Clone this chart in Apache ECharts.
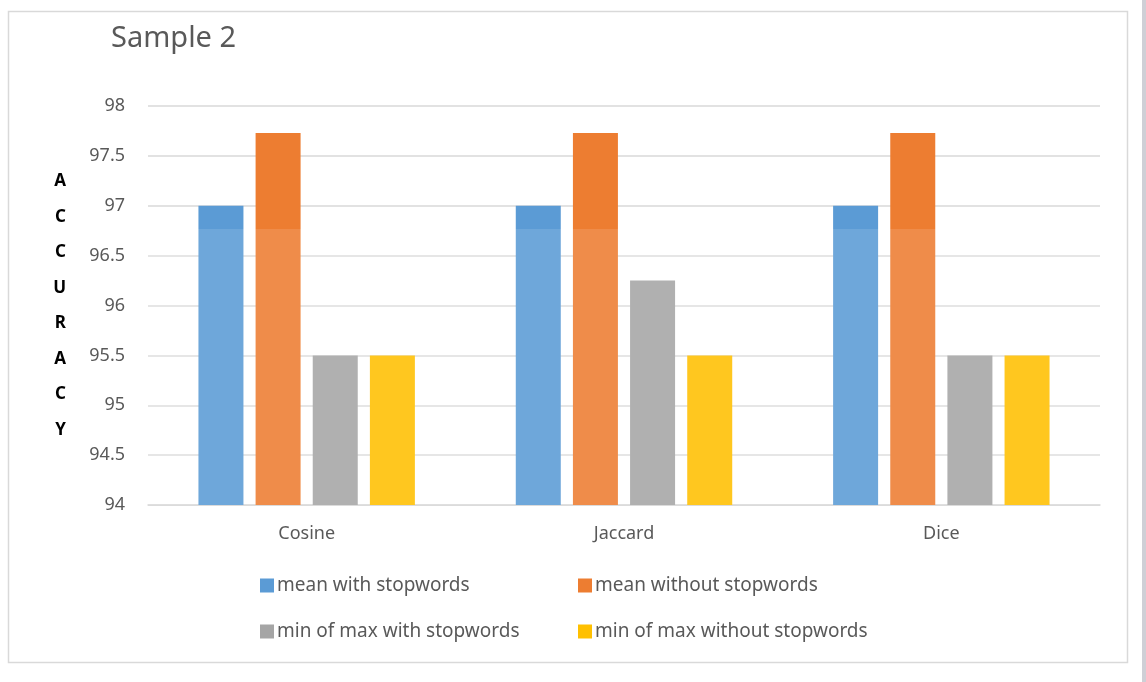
<!DOCTYPE html>
<html>
<head>
<meta charset="utf-8">
<script src="https://cdn.jsdelivr.net/npm/echarts@6/dist/echarts.min.js"></script>
<style>
  html, body { margin: 0; padding: 0; background: #ffffff; }
  #chart { width: 1146px; height: 682px; }
</style>
</head>
<body>
<div id="chart"></div>
<script>
// Accuracy per similarity measure
const categories = ['Cosine', 'Jaccard', 'Dice'];
const meanWithStopwords = [97.0, 97.0, 97.0];
const meanWithoutStopwords = [97.73, 97.73, 97.73];
const minOfMaxWithStopwords = [95.5, 96.25, 95.5];
const minOfMaxWithoutStopwords = [95.5, 95.5, 95.5];
const seriesNames = [
  'mean with stopwords',
  'mean without stopwords',
  'min of max with stopwords',
  'min of max without stopwords'
];
const colors = ['#5B9BD5', '#ED7D31', '#A5A5A5', '#FFC000'];

const FONT = 'Noto Sans';
const TXT = '#595959';

const chart = echarts.init(document.getElementById('chart'));

function barSeries(name, data, color) {
  return {
    name: name,
    type: 'bar',
    data: data,
    barWidth: 45,
    barGap: '27%',
    itemStyle: { color: color }
  };
}

function legendAt(name, left, top) {
  return {
    data: [name],
    left: left,
    top: top,
    itemWidth: 14,
    itemHeight: 14,
    icon: 'rect',
    itemGap: 4,
    textStyle: { fontFamily: FONT, fontSize: 19, color: TXT, padding: [0, 0, 0, -2] }
  };
}

chart.setOption({
  color: colors,
  animation: false,
  title: {
    text: 'Sample 2',
    left: 106,
    top: 19,
    textStyle: { fontFamily: FONT, fontSize: 29, fontWeight: 'normal', color: TXT }
  },
  legend: [
    legendAt(seriesNames[0], 255, 571),
    legendAt(seriesNames[1], 573, 571),
    legendAt(seriesNames[2], 255, 617),
    legendAt(seriesNames[3], 573, 617)
  ],
  grid: { left: 148, right: 46, top: 106, bottom: 177 },
  xAxis: {
    type: 'category',
    data: categories,
    axisTick: { show: false },
    axisLine: { lineStyle: { color: '#d9d9d9', width: 1.5 } },
    axisLabel: { fontFamily: FONT, fontSize: 18, color: TXT, margin: 20 }
  },
  yAxis: {
    type: 'value',
    min: 94,
    max: 98,
    interval: 0.5,
    name: 'A\nC\nC\nU\nR\nA\nC\nY',
    nameLocation: 'middle',
    nameRotate: 0,
    nameGap: 82,
    nameTextStyle: {
      fontFamily: FONT, fontSize: 17, fontWeight: 'bold', color: '#000000', lineHeight: 35.5
    },
    axisLine: { show: false },
    axisTick: { show: false },
    axisLabel: { fontFamily: FONT, fontSize: 18, color: TXT, margin: 23 },
    splitLine: { lineStyle: { color: '#d9d9d9', width: 1.5 } }
  },
  graphic: [
    {
      // chart frame
      type: 'rect',
      shape: { x: 8.5, y: 11.5, width: 1119, height: 651 },
      style: { fill: 'none', stroke: '#d9d9d9', lineWidth: 1.5 },
      silent: true
    },
    {
      // lighter tint over the lower part of the plot
      type: 'rect',
      shape: { x: 148, y: 229, width: 952, height: 276 },
      style: { fill: 'rgba(255,255,255,0.12)' },
      silent: true,
      z: 100
    },
    {
      // page edge strip at the right
      type: 'rect',
      shape: { x: 1142, y: 0, width: 4, height: 682 },
      style: { fill: '#cfcfd6' },
      silent: true
    }
  ],
  series: [
    barSeries(seriesNames[0], meanWithStopwords, colors[0]),
    barSeries(seriesNames[1], meanWithoutStopwords, colors[1]),
    barSeries(seriesNames[2], minOfMaxWithStopwords, colors[2]),
    barSeries(seriesNames[3], minOfMaxWithoutStopwords, colors[3])
  ]
});
</script>
</body>
</html>
